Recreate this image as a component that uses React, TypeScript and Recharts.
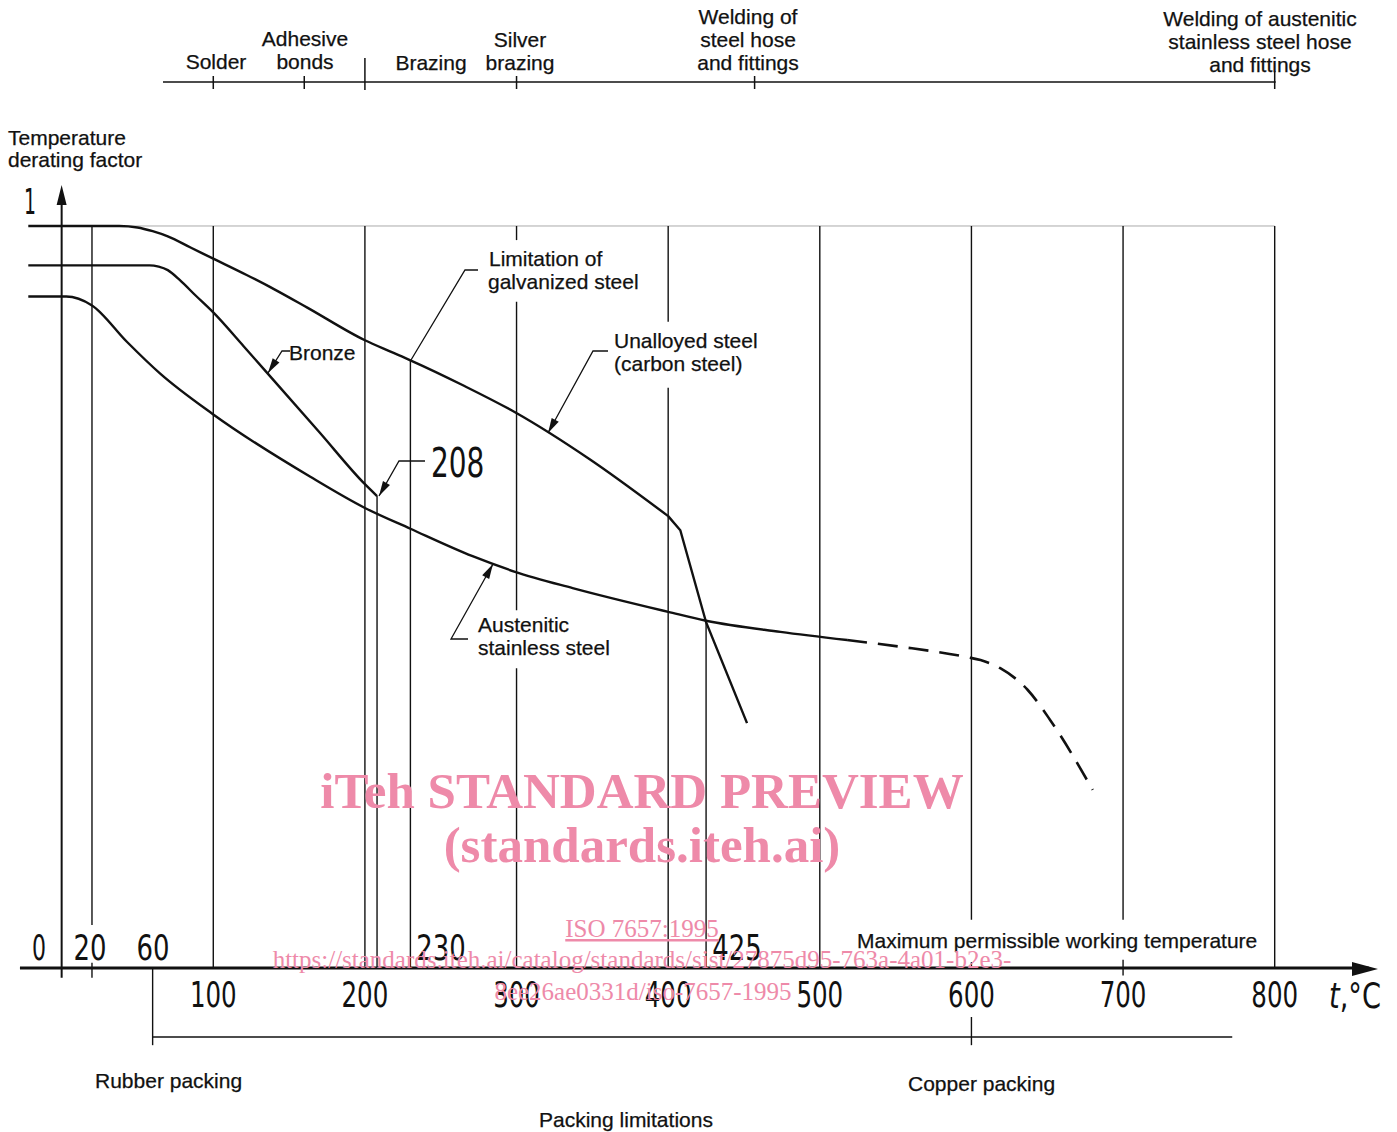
import React from "react";
import { ComposedChart, Line, XAxis, YAxis, ReferenceLine } from "recharts";

// Temperature derating factor vs. temperature — hose assemblies.
// Curves; annotations sit in an overlay svg.

const carbonT = [-22, 38, 50, 60, 70, 85, 100, 122, 140, 162, 200, 216.5, 230, 265, 299, 348, 400];
const carbonF = [1.0, 1.0, 0.998, 0.993, 0.986, 0.971, 0.956, 0.934, 0.915, 0.89, 0.846, 0.831, 0.819, 0.785, 0.749, 0.686, 0.609];
const carbonDropT = [400, 408, 425, 452];
const carbonDropF = [0.609, 0.59, 0.466, 0.33];

const bronzeT = [-22, 58, 64, 70, 78, 88, 100, 120, 139, 170, 200, 208];
const bronzeF = [0.947, 0.947, 0.9452, 0.9405, 0.927, 0.907, 0.8835, 0.838, 0.794, 0.722, 0.652, 0.636];

const austT = [-22, 3, 20, 43, 65, 100, 164, 200, 230, 271, 299, 337, 400, 425, 474, 518];
const austF = [0.905, 0.905, 0.893, 0.844, 0.801, 0.746, 0.662, 0.62, 0.592, 0.555, 0.534, 0.512, 0.48, 0.468, 0.453, 0.442];
const austDashT = [518, 553, 597, 606, 619, 637, 652, 680];
const austDashF = [0.442, 0.433, 0.419, 0.415, 0.404, 0.375, 0.334, 0.24];

const lowerTicks = [100, 200, 300, 400, 500, 600, 700, 800];
const upperTicks = ["0", "20", "60", "230", "425"];
const upperTickX = [39, 90, 153, 441, 737];

const processTemps = [100, 160, 300, 457, 800];
const processLabels = [["Solder"], ["Adhesive", "bonds"], ["Silver", "brazing"], ["Welding of", "steel hose", "and fittings"], ["Welding of austenitic", "stainless steel hose", "and fittings"]];

// vertical guide lines: temperature and the factor spans that are drawn
const guideTemps = [0, 20, 100, 200, 208, 230, 300, 400, 425, 500, 600, 700, 800];
const guideSpans = [
  [[1.04, -0.013]],
  [[1, 0.058], [0.007, -0.013]],
  [[1, 0]],
  [[1, 0]],
  [[0.636, 0]],
  [[0.819, 0]],
  [[1, 0.981], [0.898, 0.482], [0.404, 0]],
  [[1, 0.871], [0.782, 0]],
  [[0.466, 0]],
  [[1, 0]],
  [[1, 0.065], [0.008, 0]],
  [[1, 0.065], [0.011, -0.01]],
  [[1, 0]],
];

const W = 1397;
const H = 1132;
const T_MIN = -40;
const T_MAX = 880;
const F_MIN = -0.22102;
const F_MAX = 1.30458;
const sx = (t: number) => 1 + ((t - T_MIN) * (W - 2)) / (T_MAX - T_MIN);

const zip = (ts: number[], fs: number[]) => ts.map((t, i) => ({ t, f: fs[i] }));

const SANS = "'Liberation Sans', Arial, Helvetica, sans-serif";
const NARROW = "'Liberation Sans Narrow', 'DejaVu Sans Condensed', 'Arial Narrow', sans-serif";
const INK = "#111";
const PINK = "#ee8aa9";

function Arrow({ pts }: { pts: number[][] }) {
  const n = pts.length;
  const [x2, y2] = pts[n - 1];
  const [x1, y1] = pts[n - 2];
  const len = Math.hypot(x2 - x1, y2 - y1);
  const ux = (x2 - x1) / len;
  const uy = (y2 - y1) / len;
  const L = 15;
  const w = 4;
  const bx = x2 - ux * L;
  const by = y2 - uy * L;
  const head = `${x2},${y2} ${bx - uy * w},${by + ux * w} ${bx + uy * w},${by - ux * w}`;
  return (
    <g>
      <polyline points={pts.map((p) => p.join(",")).join(" ")} fill="none" stroke={INK} strokeWidth={1.3} />
      <polygon points={head} fill={INK} />
    </g>
  );
}

function Num({ x, y, s, size = 36, digit = 15.6, anchor = "middle" }: { x: number; y: number; s: string; size?: number; digit?: number; anchor?: string }) {
  return (
    <text
      x={x}
      y={y}
      fontFamily={NARROW}
      fontSize={size}
      fill={INK}
      textAnchor={anchor}
      textLength={s.length * digit}
      lengthAdjust="spacingAndGlyphs"
    >
      {s}
    </text>
  );
}

function Overlay() {
  const lab = { fontFamily: SANS, fontSize: 21, fill: INK, stroke: INK, strokeWidth: 0.25 };
  const ax0 = sx(0);
  return (
    <svg width={W} height={H} style={{ position: "absolute", left: 0, top: 0, pointerEvents: "none" }}>
      {/* process scale at the top */}
      <line x1={163} y1={82} x2={sx(800) + 1} y2={82} stroke={INK} strokeWidth={1.5} />
      <line x1={sx(200)} y1={58} x2={sx(200)} y2={90} stroke={INK} strokeWidth={1.5} />
      {processTemps.map((t) => (
        <line key={t} x1={sx(t)} y1={t === 800 ? 71 : 76} x2={sx(t)} y2={89} stroke={INK} strokeWidth={1.5} />
      ))}
      <text {...lab} x={216} y={69} textAnchor="middle">Solder</text>
      <text {...lab} x={431} y={70} textAnchor="middle">Brazing</text>
      {processLabels.slice(1).map((lines, i) => {
        const cx = [305, 520, 748, 1260][i];
        const base = [69, 70, 70, 72][i];
        return lines.map((s, j) => (
          <text key={`${i}-${j}`} {...lab} x={cx} y={base - (lines.length - 1 - j) * 23} textAnchor="middle">
            {s}
          </text>
        ));
      })}

      {/* y axis */}
      <polygon points={`${ax0},185 ${ax0 - 5},205 ${ax0 + 5},205`} fill={INK} />
      <text {...lab} x={8} y={145}>Temperature</text>
      <text {...lab} x={8} y={167}>derating factor</text>
      <Num x={24} y={214} s="1" size={35} digit={12} anchor="start" />

      {/* x axis arrow */}
      <polygon points={`1378,969 1352,962 1352,976`} fill={INK} />

      {/* curve labels and leaders */}
      <text {...lab} x={289} y={360}>Bronze</text>
      <Arrow pts={[[290, 351], [282, 351], [268, 373]]} />
      <Num x={431} y={477} s="208" size={41} digit={17.8} anchor="start" />
      <Arrow pts={[[425, 461], [399, 461], [379, 496]]} />
      <text {...lab} x={489} y={266}>Limitation of</text>
      <text {...lab} x={488} y={289}>galvanized steel</text>
      <polyline points="478,270 465,270 411,360" fill="none" stroke={INK} strokeWidth={1.3} />
      <text {...lab} x={614} y={348}>Unalloyed steel</text>
      <text {...lab} x={614} y={371}>(carbon steel)</text>
      <Arrow pts={[[608, 351], [593, 351], [548, 433]]} />
      <text {...lab} x={478} y={632}>Austenitic</text>
      <text {...lab} x={478} y={655}>stainless steel</text>
      <Arrow pts={[[468, 639], [451, 639], [493, 564]]} />

      {/* temperature numbers */}
      {upperTicks.map((s, i) => (
        <Num key={s} x={upperTickX[i]} y={960} s={s} digit={s.length === 1 ? 14 : 16.5} />
      ))}
      {lowerTicks.map((t) => (
        <Num key={t} x={sx(t)} y={1007} s={String(t)} />
      ))}
      <text
        x={1329}
        y={1008}
        fontFamily={NARROW}
        fontSize={36}
        fill={INK}
        textLength={52}
        lengthAdjust="spacingAndGlyphs"
      >
        <tspan fontStyle="italic">t</tspan>,°C
      </text>
      <text {...lab} x={857} y={948}>Maximum permissible working temperature</text>

      {/* packing */}
      <text {...lab} x={95} y={1088}>Rubber packing</text>
      <text {...lab} x={908} y={1091}>Copper packing</text>
      <text {...lab} x={539} y={1127}>Packing limitations</text>

      {/* watermark */}
      <g fontFamily="'Liberation Serif', 'Times New Roman', serif" fill={PINK} textAnchor="middle">
        <text x={642} y={808} fontSize={51} fontWeight="bold">iTeh STANDARD PREVIEW</text>
        <text x={642} y={862} fontSize={51} fontWeight="bold">(standards.iteh.ai)</text>
        <text x={642} y={937} fontSize={25} textDecoration="underline">ISO 7657:1995</text>
        <text x={642} y={968} fontSize={25}>https://standards.iteh.ai/catalog/standards/sist/27875d95-763a-4a01-b2e3-</text>
        <text x={643} y={1000} fontSize={25}>8ee26ae0331d/iso-7657-1995</text>
      </g>
    </svg>
  );
}

export default function App() {
  return (
    <div style={{ position: "absolute", left: 0, top: 0, width: W, height: H, background: "#fff" }}>
      <ComposedChart width={W} height={H} margin={{ top: 0, right: 1, bottom: 0, left: 1 }}>
        <XAxis type="number" dataKey="t" domain={[T_MIN, T_MAX]} hide allowDataOverflow />
        <YAxis type="number" dataKey="f" domain={[F_MIN, F_MAX]} hide allowDataOverflow />

        <ReferenceLine segment={[{ x: 0, y: 1 }, { x: 800, y: 1 }]} stroke="#aaa" strokeWidth={1} />
        {guideTemps.map((t, i) =>
          guideSpans[i].map(([a, b], j) => (
            <ReferenceLine
              key={`${t}-${j}`}
              segment={[{ x: t, y: a }, { x: t, y: b }]}
              stroke={INK}
              strokeWidth={t === 0 ? 2 : 1.4}
            />
          ))
        )}
        <ReferenceLine segment={[{ x: 60, y: 0 }, { x: 60, y: -0.104 }]} stroke={INK} strokeWidth={1.4} />
        <ReferenceLine segment={[{ x: 600, y: -0.066 }, { x: 600, y: -0.104 }]} stroke={INK} strokeWidth={1.4} />
        <ReferenceLine segment={[{ x: 60, y: -0.093 }, { x: 772, y: -0.093 }]} stroke={INK} strokeWidth={1.4} />
        <ReferenceLine segment={[{ x: -27.5, y: 0 }, { x: 862, y: 0 }]} stroke={INK} strokeWidth={3} />

        <Line data={zip(carbonT, carbonF)} dataKey="f" type="monotone" stroke={INK} strokeWidth={2.4} dot={false} activeDot={false} isAnimationActive={false} />
        <Line data={zip(carbonDropT, carbonDropF)} dataKey="f" type="linear" stroke={INK} strokeWidth={2.4} dot={false} activeDot={false} isAnimationActive={false} />
        <Line data={zip(bronzeT, bronzeF)} dataKey="f" type="monotone" stroke={INK} strokeWidth={2.4} dot={false} activeDot={false} isAnimationActive={false} />
        <Line data={zip(austT, austF)} dataKey="f" type="monotone" stroke={INK} strokeWidth={2.4} dot={false} activeDot={false} isAnimationActive={false} />
        <Line data={zip(austDashT, austDashF)} dataKey="f" type="monotone" stroke={INK} strokeWidth={2.6} strokeDasharray="20 11" dot={false} activeDot={false} isAnimationActive={false} />
      </ComposedChart>
      <Overlay />
    </div>
  );
}
